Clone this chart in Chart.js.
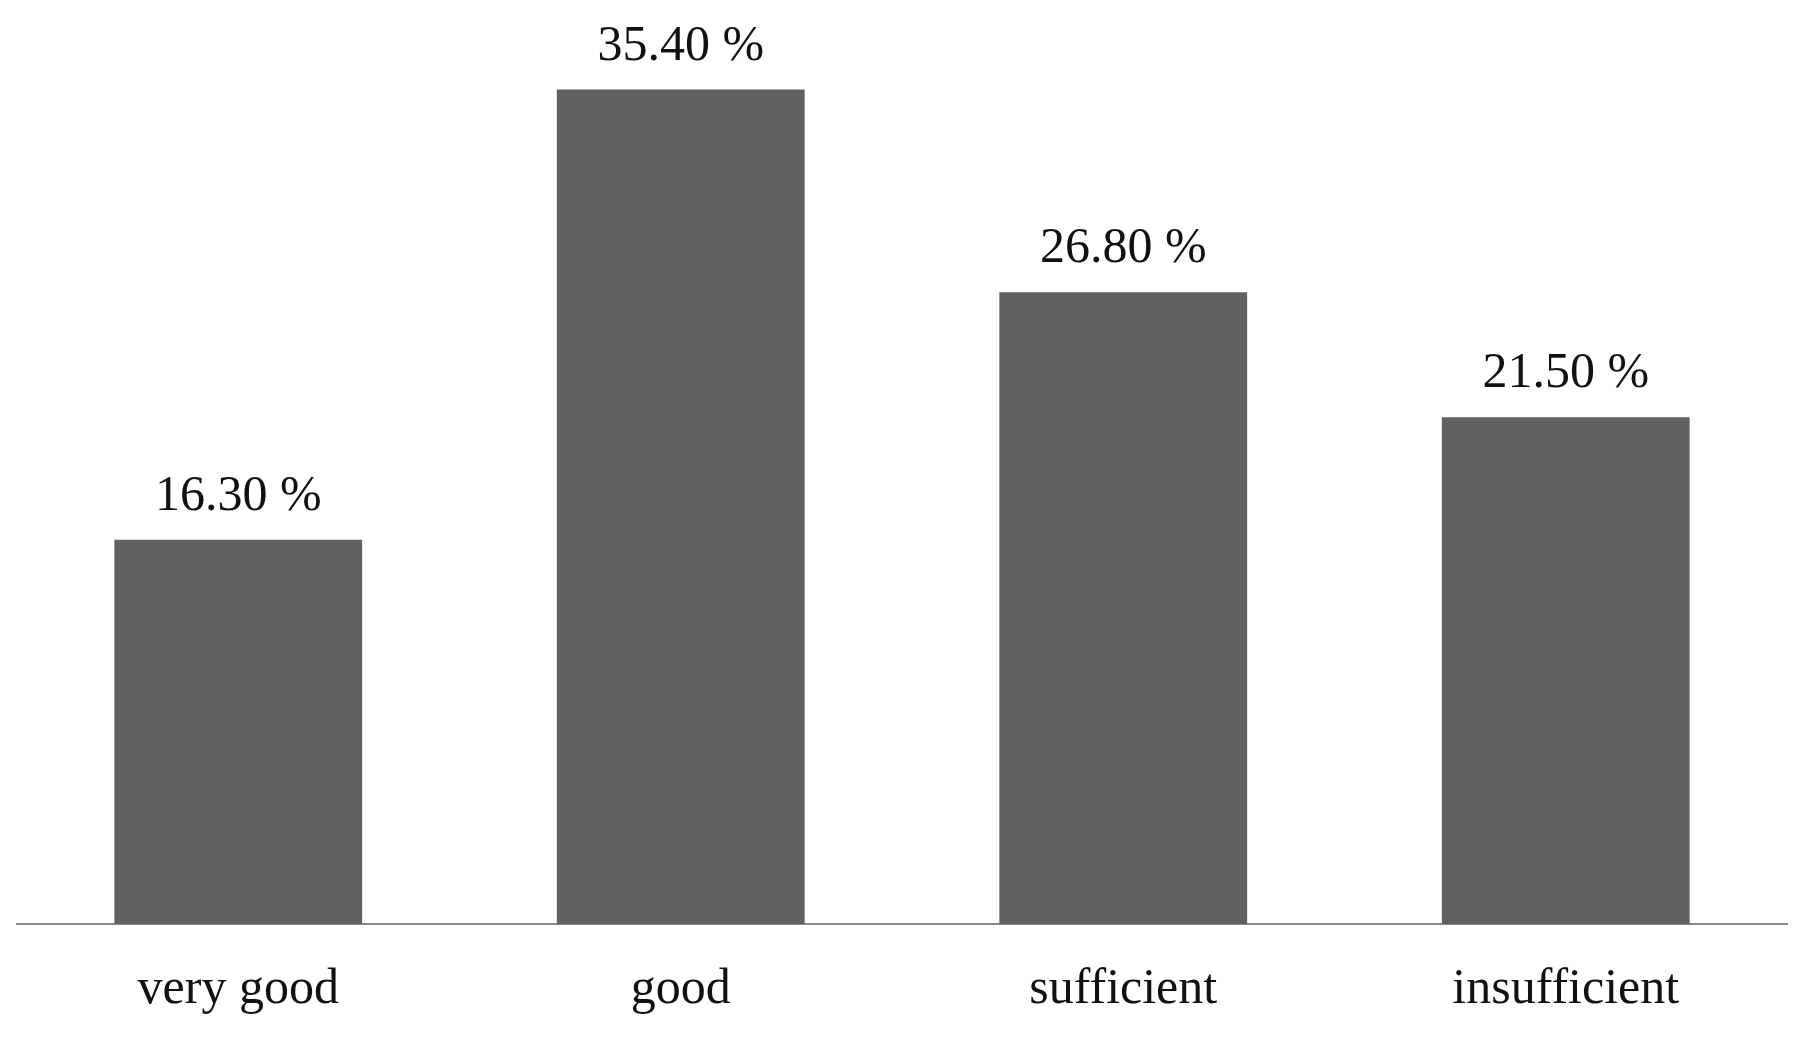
<!DOCTYPE html>
<html>
<head>
<meta charset="utf-8">
<script src="https://cdn.jsdelivr.net/npm/chart.js@4"></script>
<style>
  html, body { margin: 0; padding: 0; background: #fff; }
  #wrap { width: 1809px; height: 1040px; }
</style>
</head>
<body>
<div id="wrap"><canvas id="myChart"></canvas></div>
<script>
// data
var categories = ['very good', 'good', 'sufficient', 'insufficient'];
var shares = [16.3, 35.4, 26.8, 21.5];
var valueLabels = ['16.30 %', '35.40 %', '26.80 %', '21.50 %'];

var serif = '"Liberation Serif", "DejaVu Serif", serif';

// write the percentage above each bar
var barLabels = {
  id: 'barLabels',
  afterDatasetsDraw: function(chart) {
    var ctx = chart.ctx;
    var meta = chart.getDatasetMeta(0);
    ctx.save();
    ctx.font = '50px ' + serif;
    ctx.fillStyle = '#111';
    ctx.textAlign = 'center';
    ctx.textBaseline = 'bottom';
    meta.data.forEach(function(bar, i) {
      ctx.fillText(valueLabels[i], bar.x, bar.y - 18);
    });
    ctx.restore();
  }
};

var canvas = document.getElementById('myChart');
new Chart(canvas, {
  type: 'bar',
  data: {
    labels: categories,
    datasets: [{
      data: shares,
      backgroundColor: '#616161',
      categoryPercentage: 1,
      barPercentage: 0.56
    }]
  },
  options: {
    responsive: true,
    maintainAspectRatio: false,
    animation: false,
    layout: { padding: { left: 17, right: 22, top: 0, bottom: 0 } },
    plugins: { legend: { display: false }, tooltip: { enabled: false } },
    scales: {
      x: {
        grid: { display: false },
        border: { display: true, color: '#888', width: 2 },
        ticks: { color: '#111', font: { family: serif, size: 50 }, padding: 28 },
        afterFit: function(scale) { scale.height = 116; }
      },
      y: {
        display: false,
        min: 0,
        max: 39.2
      }
    }
  },
  plugins: [barLabels]
});
</script>
</body>
</html>
